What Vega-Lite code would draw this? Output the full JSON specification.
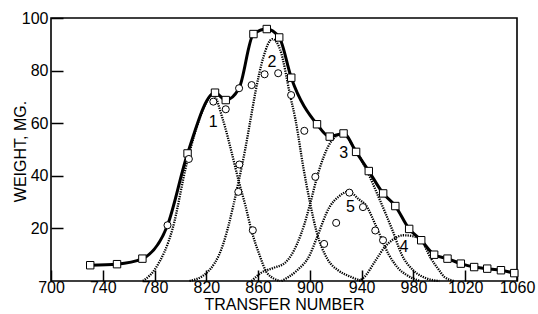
{
  "$schema": "https://vega.github.io/schema/vega-lite/v6.json",
  "width": 466,
  "height": 263,
  "autosize": "none",
  "padding": {"left": 51, "top": 18, "right": 21, "bottom": 33},
  "background": "white",
  "config": {
    "view": {"stroke": "black", "strokeWidth": 1.6},
    "axis": {
      "grid": false,
      "domain": false,
      "ticks": true,
      "tickColor": "black",
      "tickWidth": 1.5,
      "labelColor": "black",
      "titleColor": "black",
      "labelFont": "Liberation Sans",
      "titleFont": "Liberation Sans",
      "labelFontSize": 16,
      "titleFontWeight": "normal"
    }
  },
  "datasets": {
    "total": [
      {"x": 730.3, "y": 6.0, "m": "sq"},
      {"x": 751, "y": 6.4, "m": "sq"},
      {"x": 770.6, "y": 8.5, "m": "sq"},
      {"x": 790, "y": 21.2, "m": "ci"},
      {"x": 805.5, "y": 48.5, "m": "sq"},
      {"x": 826.7, "y": 71.6, "m": "sq"},
      {"x": 835, "y": 68.8, "m": "sq"},
      {"x": 845.3, "y": 73.3, "m": "ci"},
      {"x": 856.4, "y": 93.9, "m": "sq"},
      {"x": 866.7, "y": 95.8, "m": "sq"},
      {"x": 876.3, "y": 92.6, "m": "sq"},
      {"x": 885.6, "y": 77.3, "m": "sq"},
      {"x": 905.5, "y": 59.6, "m": "sq"},
      {"x": 915.3, "y": 54.9, "m": "sq"},
      {"x": 926, "y": 56.1, "m": "sq"},
      {"x": 935.7, "y": 49.1, "m": "sq"},
      {"x": 945.5, "y": 41.8, "m": "sq"},
      {"x": 956.6, "y": 33.3, "m": "sq"},
      {"x": 966, "y": 28.5, "m": "sq"},
      {"x": 976.7, "y": 19.8, "m": "sq"},
      {"x": 986, "y": 15.5, "m": "sq"},
      {"x": 996, "y": 10, "m": "sq"},
      {"x": 1006.3, "y": 8.5, "m": "sq"},
      {"x": 1016.6, "y": 6.6, "m": "sq"},
      {"x": 1026.9, "y": 5.3, "m": "sq"},
      {"x": 1037, "y": 4.7, "m": "sq"},
      {"x": 1047.6, "y": 4.1, "m": "sq"},
      {"x": 1057.9, "y": 3.0, "m": "sq"}
    ],
    "comp": [
      {"c": "1", "x": 771, "y": 0}, {"c": "1", "x": 781, "y": 5}, {"c": "1", "x": 794, "y": 20},
      {"c": "1", "x": 805, "y": 45}, {"c": "1", "x": 815, "y": 62}, {"c": "1", "x": 820, "y": 68},
      {"c": "1", "x": 825, "y": 71}, {"c": "1", "x": 833, "y": 61}, {"c": "1", "x": 840, "y": 48},
      {"c": "1", "x": 845, "y": 38}, {"c": "1", "x": 850, "y": 29}, {"c": "1", "x": 855, "y": 19},
      {"c": "1", "x": 861, "y": 10}, {"c": "1", "x": 867, "y": 3}, {"c": "1", "x": 877, "y": 0},
      {"c": "2", "x": 807, "y": 0}, {"c": "2", "x": 820, "y": 3}, {"c": "2", "x": 833, "y": 14},
      {"c": "2", "x": 841, "y": 29}, {"c": "2", "x": 845, "y": 38}, {"c": "2", "x": 850, "y": 50},
      {"c": "2", "x": 854, "y": 61}, {"c": "2", "x": 858, "y": 72}, {"c": "2", "x": 864, "y": 85},
      {"c": "2", "x": 871, "y": 92}, {"c": "2", "x": 877, "y": 88}, {"c": "2", "x": 885, "y": 70},
      {"c": "2", "x": 889, "y": 61}, {"c": "2", "x": 895, "y": 43}, {"c": "2", "x": 900, "y": 30},
      {"c": "2", "x": 905, "y": 19}, {"c": "2", "x": 914, "y": 8}, {"c": "2", "x": 922, "y": 4},
      {"c": "2", "x": 932, "y": 1.5}, {"c": "2", "x": 940, "y": 0},
      {"c": "3", "x": 855, "y": 0}, {"c": "3", "x": 862, "y": 3}, {"c": "3", "x": 872, "y": 5},
      {"c": "3", "x": 881, "y": 7}, {"c": "3", "x": 890, "y": 14}, {"c": "3", "x": 896, "y": 22},
      {"c": "3", "x": 900, "y": 29}, {"c": "3", "x": 907, "y": 42}, {"c": "3", "x": 914, "y": 51},
      {"c": "3", "x": 920, "y": 55}, {"c": "3", "x": 925, "y": 56}, {"c": "3", "x": 935, "y": 50},
      {"c": "3", "x": 944, "y": 42}, {"c": "3", "x": 953, "y": 32}, {"c": "3", "x": 964, "y": 19},
      {"c": "3", "x": 971, "y": 10}, {"c": "3", "x": 980, "y": 4}, {"c": "3", "x": 990, "y": 1},
      {"c": "3", "x": 1000, "y": 0},
      {"c": "4", "x": 938, "y": 0}, {"c": "4", "x": 942, "y": 1.5}, {"c": "4", "x": 951, "y": 8},
      {"c": "4", "x": 958, "y": 13}, {"c": "4", "x": 965, "y": 16}, {"c": "4", "x": 972, "y": 17.4},
      {"c": "4", "x": 980, "y": 17}, {"c": "4", "x": 986, "y": 15.5}, {"c": "4", "x": 993, "y": 9},
      {"c": "4", "x": 1000, "y": 4}, {"c": "4", "x": 1004, "y": 1.5}, {"c": "4", "x": 1012, "y": 0},
      {"c": "5", "x": 878, "y": 0}, {"c": "5", "x": 890, "y": 4}, {"c": "5", "x": 900, "y": 10},
      {"c": "5", "x": 905, "y": 16}, {"c": "5", "x": 915, "y": 28}, {"c": "5", "x": 922, "y": 32},
      {"c": "5", "x": 930, "y": 34}, {"c": "5", "x": 938, "y": 31}, {"c": "5", "x": 943, "y": 29},
      {"c": "5", "x": 951, "y": 21}, {"c": "5", "x": 961, "y": 10}, {"c": "5", "x": 968, "y": 5},
      {"c": "5", "x": 974, "y": 2.5}, {"c": "5", "x": 985, "y": 0}
    ],
    "circ": [
      {"x": 790, "y": 21.2}, {"x": 806.5, "y": 46.4}, {"x": 825.4, "y": 68.2},
      {"x": 835, "y": 65.3}, {"x": 845.3, "y": 73.3}, {"x": 845.5, "y": 44.3},
      {"x": 844.7, "y": 33.9}, {"x": 855.9, "y": 19.3}, {"x": 855, "y": 74.5},
      {"x": 865, "y": 78.6}, {"x": 875.5, "y": 79}, {"x": 885.5, "y": 70.7},
      {"x": 895.7, "y": 57.1}, {"x": 904.2, "y": 39.6}, {"x": 911, "y": 14.1},
      {"x": 920.3, "y": 22.1}, {"x": 930.5, "y": 33.6}, {"x": 941, "y": 28.1},
      {"x": 950.5, "y": 19.2}, {"x": 956.5, "y": 15.5}
    ],
    "labs": [
      {"x": 825.3, "y": 60.5, "t": "1"},
      {"x": 870.6, "y": 83.4, "t": "2"},
      {"x": 926.2, "y": 48.5, "t": "3"},
      {"x": 972.6, "y": 13, "t": "4"},
      {"x": 931.3, "y": 28, "t": "5"}
    ]
  },
  "layer": [
    {
      "data": {"name": "comp"},
      "mark": {"type": "line", "interpolate": "monotone", "color": "black", "strokeWidth": 2.3, "strokeDash": [1.3, 1.1]},
      "encoding": {
        "x": {
          "field": "x", "type": "quantitative",
          "scale": {"domain": [700, 1060], "nice": false, "zero": false},
          "axis": {
            "values": [700, 740, 780, 820, 860, 900, 940, 980, 1020, 1060],
            "tickSize": -11, "labelPadding": 9, "title": "TRANSFER NUMBER",
            "titleFontSize": 16, "titlePadding": 1, "labelFlush": false, "format": "d"
          }
        },
        "y": {
          "field": "y", "type": "quantitative",
          "scale": {"domain": [0, 100], "nice": false},
          "axis": {
            "values": [20, 40, 60, 80, 100],
            "tickSize": -12, "labelPadding": 15, "title": "WEIGHT, MG.",
            "titleFontSize": 16, "titleX": -31, "titleY": 133, "titleAngle": -90,
            "titleAlign": "center", "titleBaseline": "middle"
          }
        },
        "detail": {"field": "c"}
      }
    },
    {
      "data": {"name": "total"},
      "mark": {"type": "line", "interpolate": "monotone", "color": "black", "strokeWidth": 3},
      "encoding": {
        "x": {"field": "x", "type": "quantitative"},
        "y": {"field": "y", "type": "quantitative"}
      }
    },
    {
      "data": {"name": "total"},
      "transform": [{"filter": "datum.m === 'sq'"}],
      "mark": {"type": "point", "shape": "square", "filled": true, "fill": "white", "stroke": "black", "strokeWidth": 1, "size": 55, "opacity": 1},
      "encoding": {
        "x": {"field": "x", "type": "quantitative"},
        "y": {"field": "y", "type": "quantitative"}
      }
    },
    {
      "data": {"name": "circ"},
      "mark": {"type": "point", "shape": "circle", "filled": true, "fill": "white", "stroke": "black", "strokeWidth": 1, "size": 50, "opacity": 1},
      "encoding": {
        "x": {"field": "x", "type": "quantitative"},
        "y": {"field": "y", "type": "quantitative"}
      }
    },
    {
      "data": {"name": "labs"},
      "mark": {"type": "text", "font": "Liberation Sans", "fontSize": 16, "align": "center", "baseline": "middle", "color": "black"},
      "encoding": {
        "x": {"field": "x", "type": "quantitative"},
        "y": {"field": "y", "type": "quantitative"},
        "text": {"field": "t"}
      }
    }
  ]
}
